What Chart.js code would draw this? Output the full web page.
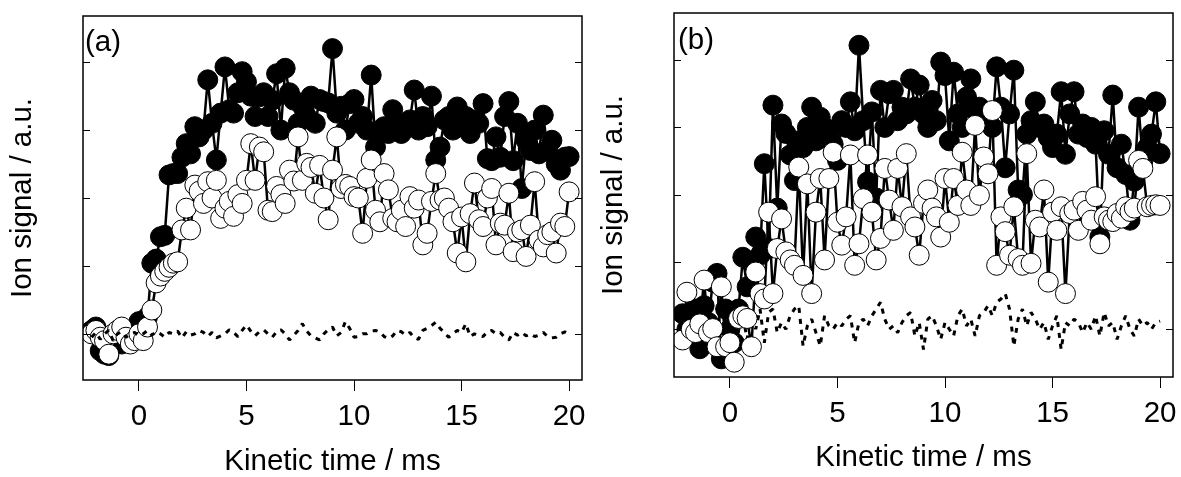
<!DOCTYPE html>
<html>
<head>
<meta charset="utf-8">
<script src="https://cdn.jsdelivr.net/npm/chart.js@4/dist/chart.umd.min.js"></script>
<style>
  html, body { margin: 0; padding: 0; background: #fff; overflow: hidden; }
  #wrap { position: relative; width: 1181px; height: 477px; overflow: hidden; }
  canvas { position: absolute; top: 0; }
  #chartA { left: 0; }
  #chartB { left: 590px; }
</style>
</head>
<body>
<div id="wrap">
  <canvas id="chartA" width="590" height="477"></canvas>
  <canvas id="chartB" width="591" height="477"></canvas>
</div>
<script>
// kinetic time axis (ms), shared by both panels
let times = [
  -2.2, -2.0, -1.8, -1.6, -1.4, -1.2, -1.0, -0.8, -0.6, -0.4,
  -0.2, 0.0, 0.2, 0.4, 0.6, 0.8, 1.0, 1.2, 1.4, 1.6,
  1.8, 2.0, 2.2, 2.4, 2.6, 2.8, 3.0, 3.2, 3.4, 3.6,
  3.8, 4.0, 4.2, 4.4, 4.6, 4.8, 5.0, 5.2, 5.4, 5.6,
  5.8, 6.0, 6.2, 6.4, 6.6, 6.8, 7.0, 7.2, 7.4, 7.6,
  7.8, 8.0, 8.2, 8.4, 8.6, 8.8, 9.0, 9.2, 9.4, 9.6,
  9.8, 10.0, 10.2, 10.4, 10.6, 10.8, 11.0, 11.2, 11.4, 11.6,
  11.8, 12.0, 12.2, 12.4, 12.6, 12.8, 13.0, 13.2, 13.4, 13.6,
  13.8, 14.0, 14.2, 14.4, 14.6, 14.8, 15.0, 15.2, 15.4, 15.6,
  15.8, 16.0, 16.2, 16.4, 16.6, 16.8, 17.0, 17.2, 17.4, 17.6,
  17.8, 18.0, 18.2, 18.4, 18.6, 18.8, 19.0, 19.2, 19.4, 19.6,
  19.8, 20.0
]

// panel (a)
let aFilled = [
  0.05, 0.1, -0.25, -0.3, -0.32, -0.1, 0.0, -0.15, 0.05, -0.1,
  -0.05, 0.18, 0.15, 0.25, 1.04, 1.1, 1.43, 1.45, 2.34, 2.36,
  2.36, 2.6, 2.8, 2.65, 3.05, 2.9, 3.0, 3.74, 3.1, 2.56,
  3.25, 3.93, 3.3, 3.25, 3.55, 3.86, 3.71, 3.5, 3.2, 3.49,
  3.55, 3.2, 3.44, 3.83, 3.0, 3.91, 3.55, 3.44, 3.1, 3.35,
  3.2, 3.5, 3.1, 3.45, 3.42, 3.4, 4.2, 3.25, 3.35, 3.0,
  3.39, 3.45, 3.1, 3.2, 3.0, 3.81, 2.75, 3.0, 3.05, 2.95,
  3.3, 3.1, 2.95, 3.05, 3.15, 3.59, 3.0, 3.2, 3.05, 3.5,
  2.56, 2.75, 3.15, 3.2, 3.0, 3.34, 3.1, 3.2, 2.95, 3.15,
  3.1, 3.39, 2.58, 2.55, 2.9, 2.6, 3.2, 3.42, 2.55, 3.1,
  2.14, 2.85, 2.7, 3.0, 2.65, 3.22, 2.7, 2.85, 2.5, 2.41,
  2.6, 2.61
]
let aOpen = [
  0.0, 0.05, -0.05, -0.1, -0.3, 0.0, 0.05, 0.1, -0.05, -0.15,
  -0.1, 0.0, -0.1, 0.1, 0.35, 0.75, 0.85, 0.92, 0.98, 1.04,
  1.06, 1.53, 1.85, 1.53, 2.19, 2.1, 1.92, 2.24, 2.0, 2.26,
  1.7, 1.85, 1.95, 1.73, 2.05, 1.92, 2.26, 2.8, 2.26, 2.75,
  2.68, 1.82, 1.8, 2.17, 2.05, 1.92, 2.41, 2.25, 2.9, 2.26,
  2.51, 2.45, 2.07, 2.48, 2.0, 1.68, 2.41, 2.9, 2.14, 2.2,
  2.17, 2.02, 2.0, 1.48, 2.29, 2.56, 1.82, 1.65, 2.36, 2.12,
  1.7, 1.65, 1.82, 1.58, 2.02, 1.85, 1.97, 1.31, 1.48, 1.95,
  2.36, 1.97, 2.0, 1.85, 1.65, 1.19, 1.72, 1.06, 1.77, 2.22,
  1.68, 1.58, 2.0, 2.14, 1.31, 1.63, 1.6, 2.07, 1.21, 1.5,
  1.53, 1.14, 1.6, 2.24, 1.38, 1.28, 1.46, 1.5, 1.19, 1.63,
  1.58, 2.09
]
let aBase = [
  -0.05, 0.02, -0.08, 0.0, 0.05, -0.1, 0.0, 0.03, -0.05, 0.0,
  0.02, -0.03, 0.0, 0.05, -0.02, 0.03, 0.0, -0.05, 0.02, 0.0,
  0.04, -0.06, 0.03, -0.02, 0.0, 0.05, 0.02, -0.04, 0.02, -0.06,
  -0.03, 0.0, 0.06, 0.02, -0.04, 0.05, 0.13, 0.04, -0.03, 0.03,
  0.06, 0.0, -0.05, 0.03, 0.06, 0.0, -0.09, -0.02, 0.05, 0.15,
  0.04, -0.03, -0.06, -0.09, 0.0, 0.06, 0.1, -0.03, 0.02, 0.18,
  0.08, -0.05, -0.04, 0.0, 0.0, 0.04, 0.05, 0.03, -0.04, -0.07,
  -0.03, 0.05, 0.03, -0.02, 0.02, -0.06, -0.08, 0.05, 0.08, 0.12,
  0.17, 0.08, 0.02, -0.05, 0.0, 0.05, 0.02, 0.15, -0.04, 0.0,
  -0.03, -0.04, 0.03, 0.05, 0.0, 0.02, -0.05, -0.09, 0.02, -0.02,
  0.02, -0.03, 0.0, -0.04, -0.02, 0.02, -0.04, -0.06, -0.05, 0.0,
  0.03, 0.0
]

// panel (b)
let bFilled = [
  0.23, 0.0, 0.1, 0.3, -0.29, 0.35, 0.1, 0.7, 0.83, -0.44,
  0.3, 0.0, -0.2, 0.3, 1.07, 0.63, 1.0, 1.37, 1.1, 2.46,
  1.2, 3.33, 1.8, 3.05, 2.91, 2.59, 2.21, 2.8, 2.7, 3.0,
  3.3, 2.8, 3.15, 3.0, 2.9, 2.75, 2.51, 3.1, 3.0, 3.38,
  2.95, 4.22, 3.1, 2.19, 3.23, 1.95, 3.55, 3.0, 3.5, 3.55,
  3.1, 3.3, 3.2, 3.72, 3.3, 3.63, 3.2, 3.0, 3.4, 3.1,
  3.97, 3.77, 2.8, 3.82, 3.2, 3.0, 3.45, 3.72, 3.25, 3.3,
  3.1, 3.2, 3.0, 3.9, 3.3, 2.4, 3.2, 3.85, 2.07, 2.0,
  2.9, 3.1, 3.38, 3.0, 3.05, 2.85, 2.7, 2.9, 3.53, 2.6,
  3.2, 3.53, 2.9, 3.05, 2.85, 3.0, 2.75, 1.37, 2.95, 2.6,
  3.48, 2.4, 2.75, 2.3, 1.62, 2.2, 3.3, 2.5, 2.7, 2.9,
  3.38, 2.61
]
let bOpen = [
  -0.16, 0.55, 0.0, -0.05, 0.08, 0.73, -0.05, 0.01, -0.26, 0.63,
  -0.26, -0.2, -0.49, 0.16, 0.2, 0.16, -0.26, 0.85, 0.53, 0.45,
  1.74, 0.53, 1.2, 1.64, 1.15, 1.03, 0.95, 2.41, 0.8, 2.16,
  0.53, 1.74, 2.24, 1.03, 2.24, 2.63, 1.59, 1.25, 1.67, 2.59,
  0.95, 1.27, 1.94, 2.59, 1.74, 1.03, 1.35, 2.39, 1.92, 1.47,
  2.39, 1.82, 2.61, 1.67, 1.52, 1.1, 1.87, 2.07, 1.8, 1.67,
  1.37, 2.24, 1.59, 2.24, 1.84, 2.63, 2.07, 1.84, 3.03, 1.99,
  2.56, 2.31, 3.25, 0.95, 1.67, 1.45, 1.1, 1.82, 1.05, 0.95,
  2.61, 0.98, 1.62, 1.52, 2.07, 0.7, 1.74, 1.47, 1.82, 0.53,
  1.72, 1.77, 1.47, 1.9, 1.77, 1.62, 1.97, 1.27, 1.67, 1.62,
  1.6, 1.72, 1.65, 1.82, 1.75, 1.8, 2.51, 2.39, 1.82, 1.84,
  1.85, 1.84
]
let bBase = [
  0.1, -0.1, 0.2, 0.0, 0.15, -0.05, 0.1, 0.0, 0.2, -0.1,
  0.05, 0.15, -0.1, 0.1, 0.2, -0.15, 0.25, 0.0, 0.3, -0.2,
  0.25, 0.3, -0.05, 0.1, 0.0, 0.2, 0.3, 0.35, -0.25, 0.05,
  0.15, -0.05, -0.25, 0.2, 0.05, 0.0, 0.1, 0.05, 0.15, 0.2,
  -0.2, 0.1, 0.15, 0.05, 0.2, 0.3, 0.4, 0.15, 0.0, 0.05,
  -0.05, 0.1, 0.2, 0.25, -0.1, 0.1, -0.3, 0.15, 0.2, 0.05,
  -0.15, 0.1, 0.0, -0.1, 0.2, 0.3, 0.05, 0.15, -0.1, 0.2,
  0.25, 0.35, 0.2, 0.4, 0.45, 0.53, 0.3, -0.25, 0.15, 0.3,
  0.05, 0.25, 0.15, 0.0, 0.1, -0.15, 0.05, 0.2, -0.3, 0.1,
  0.05, 0.15, 0.1, -0.05, 0.1, 0.0, 0.2, -0.1, 0.25, 0.05,
  0.1, -0.15, 0.05, 0.2, 0.0, -0.1, 0.15, 0.05, 0.1, 0.0,
  0.1, 0.12
]

let xTicks = [0, 5, 10, 15, 20]
let yTicks = [0, 1, 2, 3, 4]

const FONT = '"Liberation Sans", Arial, Helvetica, sans-serif'
const SIZE = 29.5

function pts(ys) {
  return times.map((t, i) => ({ x: t, y: ys[i] }))
}

function markers(ys, fill) {
  return {
    data: pts(ys),
    borderColor: '#000',
    borderWidth: 2.5,
    borderJoinStyle: 'round',
    pointRadius: 10,
    pointBackgroundColor: fill,
    pointBorderColor: '#000',
    pointBorderWidth: 1,
    tension: 0
  }
}

function dashed(ys) {
  return {
    data: pts(ys),
    borderColor: '#000',
    borderWidth: 3,
    borderDash: [5, 6],
    borderJoinStyle: 'bevel',
    borderCapStyle: 'butt',
    pointRadius: 0,
    tension: 0
  }
}

// frame, inside y ticks and the (a)/(b) tag
let framePlugin = {
  id: 'frame',
  afterDraw(chart, args, opts) {
    let { ctx, chartArea: a, scales: { y } } = chart
    ctx.save()
    ctx.strokeStyle = '#000'
    ctx.lineWidth = 1.5
    ctx.strokeRect(a.left, a.top, a.right - a.left, a.bottom - a.top)
    ctx.lineWidth = 1
    yTicks.forEach(v => {
      let py = Math.round(y.getPixelForValue(v)) + 0.5
      ctx.beginPath()
      ctx.moveTo(a.left, py)
      ctx.lineTo(a.left + 7, py)
      ctx.moveTo(a.right, py)
      ctx.lineTo(a.right - 7, py)
      ctx.stroke()
    })
    ctx.fillStyle = '#000'
    ctx.font = SIZE + 'px ' + FONT
    ctx.textBaseline = 'alphabetic'
    ctx.fillText(opts.tag, a.left + opts.dx, a.top + opts.dy)
    ctx.restore()
  }
}

function makeChart(id, p) {
  let font = { family: FONT, size: SIZE, lineHeight: 1 }
  // tall line box pushes the tick labels down instead of ticks.padding
  let tickFont = { family: FONT, size: SIZE, lineHeight: p.tickLine / SIZE }
  return new Chart(document.getElementById(id), {
    type: 'line',
    data: { datasets: p.datasets },
    options: {
      responsive: false,
      maintainAspectRatio: false,
      animation: false,
      layout: { padding: { left: 0, right: 8, top: p.top, bottom: 0 } },
      plugins: {
        legend: { display: false },
        tooltip: { enabled: false },
        frame: { tag: p.tag, dx: p.dx, dy: p.dy }
      },
      scales: {
        x: {
          type: 'linear',
          min: -2.6,
          max: 20.6,
          afterBuildTicks: s => { s.ticks = xTicks.map(v => ({ value: v })) },
          afterFit: s => {
            s.height = p.xHeight
            s.paddingLeft = 0
            s.paddingRight = 0
          },
          border: { display: false },
          grid: { display: true, drawOnChartArea: false, drawTicks: true, tickLength: 11, color: '#000', lineWidth: 1 },
          ticks: { color: '#000', font: tickFont, padding: 0, maxRotation: 0, autoSkip: false },
          title: { display: true, text: 'Kinetic time / ms', color: '#000', font: font, padding: { top: 0, bottom: p.titlePad } }
        },
        y: {
          type: 'linear',
          min: p.ymin,
          max: p.ymax,
          afterBuildTicks: s => { s.ticks = yTicks.map(v => ({ value: v })) },
          afterFit: s => {
            s.width = p.yWidth
            s.paddingTop = 0
            s.paddingBottom = 0
          },
          border: { display: false },
          grid: { display: false },
          ticks: { display: false },
          title: { display: true, text: 'Ion signal / a.u.', color: '#000', font: font, padding: { top: p.yTitlePad, bottom: 0 } }
        }
      }
    },
    plugins: [framePlugin]
  })
}

// widen the canvas until the plot frame ends where the figure's frame ends
function pinRight(chart, target) {
  let gap = Math.round(target - chart.chartArea.right)
  if (gap !== 0) chart.resize(chart.width + gap, chart.height)
}

let chartA = makeChart('chartA', {
  tag: '(a)', dx: 2, dy: 35,
  top: 16, xHeight: 97, yWidth: 83,
  tickLine: 51.5, titlePad: 0, yTitlePad: 8,
  ymin: -0.68, ymax: 4.68,
  datasets: [dashed(aBase), markers(aOpen, '#fff'), markers(aFilled, '#000')]
})

let chartB = makeChart('chartB', {
  tag: '(b)', dx: 4, dy: 36,
  top: 13, xHeight: 100, yWidth: 84,
  tickLine: 51.5, titlePad: 4, yTitlePad: 9,
  ymin: -0.71, ymax: 4.70,
  datasets: [markers(bOpen, '#fff'), markers(bFilled, '#000'), dashed(bBase)]
})

pinRight(chartA, 582)
pinRight(chartB, 583)
</script>
</body>
</html>
